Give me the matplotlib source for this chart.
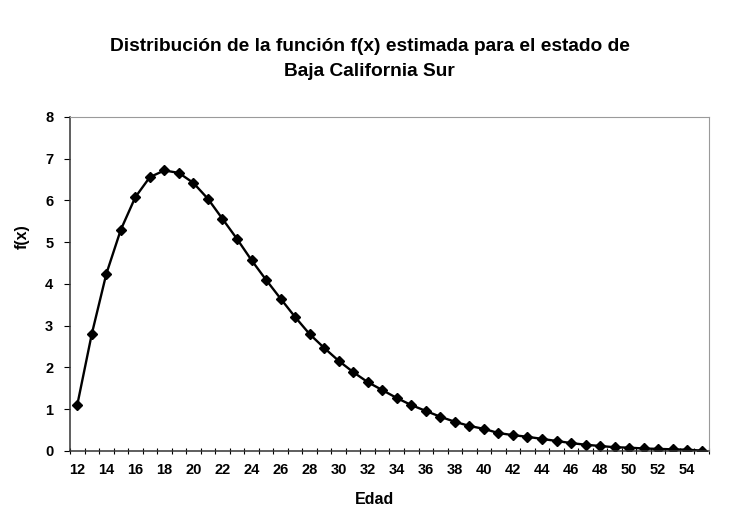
import numpy as np
import matplotlib
matplotlib.use('Agg')
import matplotlib.pyplot as plt

plt.rcParams['font.family'] = ['Liberation Sans', 'DejaVu Sans']

# edades y valores de f(x)
edad = list(range(12, 56))
fx = [1.10, 2.80, 4.24, 5.30, 6.08, 6.56, 6.72, 6.66, 6.42, 6.04,
      5.56, 5.08, 4.57, 4.10, 3.65, 3.21, 2.80, 2.47, 2.16, 1.89,
      1.65, 1.46, 1.27, 1.10, 0.96, 0.82, 0.70, 0.60, 0.53, 0.43,
      0.38, 0.34, 0.29, 0.24, 0.19, 0.15, 0.12, 0.09, 0.08, 0.06,
      0.05, 0.04, 0.03, 0.01]
xlabels = list(range(12, 56, 2))

titulo = 'Distribución de la función f(x) estimada para el estado de\nBaja California Sur'

fig = plt.figure(figsize=(7.32, 5.2), dpi=100)
ax = fig.add_axes([0.0956, 0.1327, 0.873, 0.6423])

ax.plot(edad, fx, color='black', lw=1.7, marker='D', markersize=5,
        markerfacecolor='black', markeredgecolor='black')

ax.set_xlim(11.5, 55.5)
ax.set_ylim(0, 8)

# etiquetas cada 2 anios, marcas entre categorias
ax.set_xticks(xlabels)
ax.set_xticklabels([str(v) for v in xlabels])
ax.set_xticks(np.arange(11.5, 56, 1), minor=True)
ax.tick_params(axis='x', which='major', length=0, pad=9, labelsize=10.5)
ax.tick_params(axis='x', which='minor', length=4, direction='inout', width=0.8)
ax.set_yticks(range(0, 9))
ax.tick_params(axis='y', which='major', length=4, direction='out', width=0.8,
               pad=8, labelsize=10.5)
for lab in ax.get_xticklabels() + ax.get_yticklabels():
    lab.set_fontweight('bold')

for s in ['left', 'bottom']:
    ax.spines[s].set_color('#333333')
    ax.spines[s].set_linewidth(1.1)
for s in ['top', 'right']:
    ax.spines[s].set_color('#9a9a9a')
    ax.spines[s].set_linewidth(0.8)

fig.text(0.505, 0.887, titulo, ha='center', va='center', fontsize=13.8,
         fontweight='bold', linespacing=1.6)
fig.text(0.512, 0.040, 'Edad', ha='center', va='center', fontsize=11.5,
         fontweight='bold')
fig.text(0.03, 0.545, 'f(x)', ha='center', va='center', rotation=90,
         fontsize=11.5, fontweight='bold')

plt.savefig('out.png', dpi=100)
